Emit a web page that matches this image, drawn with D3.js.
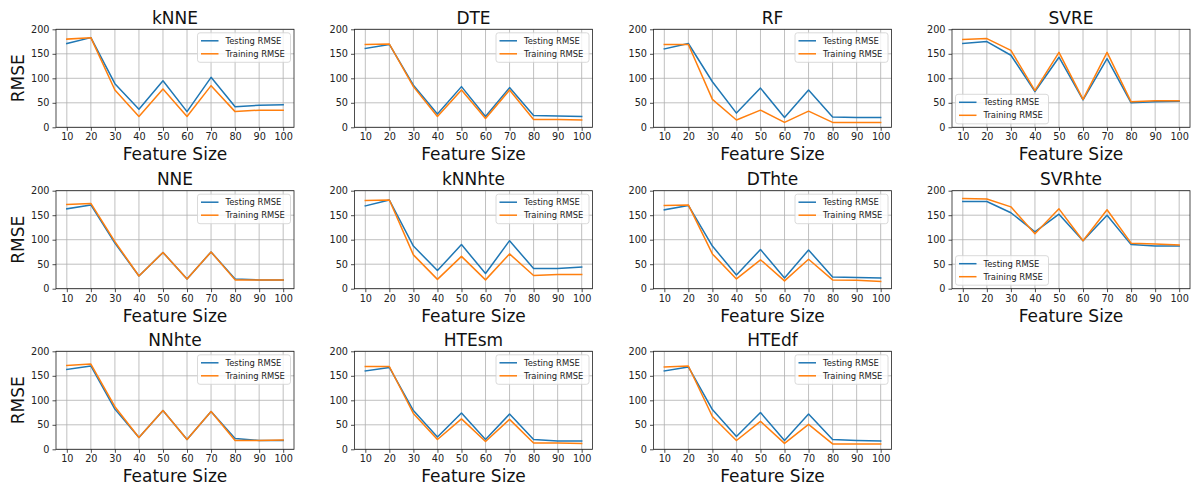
<!DOCTYPE html>
<html>
<head>
<meta charset="utf-8">
<script src="https://cdn.jsdelivr.net/npm/d3@7"></script>
<style>
  html, body { margin: 0; padding: 0; background: #fff; }
  svg { display: block; font-family: "DejaVu Sans", sans-serif; }
</style>
</head>
<body>
<svg id="chart" width="1193" height="489"></svg>
<script>
// Feature sizes on the x axis
const featureSizes = [10, 20, 30, 40, 50, 60, 70, 80, 90, 100];
const xTicks = [10, 20, 30, 40, 50, 60, 70, 80, 90, 100];
const yTicks = [0, 50, 100, 150, 200];
const seriesNames = ["Testing RMSE", "Training RMSE"];
const modelNames = ["kNNE", "DTE", "RF", "SVRE", "NNE", "kNNhte", "DThte", "SVRhte", "NNhte", "HTEsm", "HTEdf"];

// RMSE per model: testing and training
const kNNE_test    = [171, 183, 89, 37, 95, 32, 102, 42, 45, 46];
const kNNE_train   = [180, 183, 76, 22, 78, 22, 85, 32, 35, 35];
const DTE_test     = [161, 169, 86, 27, 83, 22, 81, 24, 23, 22];
const DTE_train    = [169, 170, 83, 22, 76, 18, 76, 16, 16, 15];
const RF_test      = [160, 171, 93, 29, 80, 20, 76, 21, 20, 20];
const RF_train     = [169, 169, 57, 15, 35, 10, 33, 10, 10, 10];
const SVRE_test    = [171, 175, 147, 73, 143, 56, 140, 50, 52, 53];
const SVRE_train   = [179, 181, 157, 75, 153, 57, 153, 52, 54, 54];
const NNE_test     = [163, 171, 93, 26, 74, 20, 75, 20, 18, 18];
const NNE_train    = [172, 174, 96, 26, 74, 20, 75, 18, 18, 18];
const kNNhte_test  = [169, 181, 87, 37, 90, 31, 98, 41, 41, 44];
const kNNhte_train = [180, 181, 69, 19, 66, 18, 71, 27, 29, 29];
const DThte_test   = [161, 170, 87, 28, 80, 22, 79, 24, 23, 22];
const DThte_train  = [170, 171, 71, 20, 59, 16, 60, 18, 17, 15];
const SVRhte_test  = [178, 178, 155, 116, 152, 98, 150, 90, 87, 87];
const SVRhte_train = [184, 183, 167, 112, 163, 98, 161, 93, 91, 89];
const NNhte_test   = [163, 170, 82, 24, 79, 20, 77, 22, 18, 18];
const NNhte_train  = [171, 174, 87, 24, 79, 20, 77, 18, 18, 19];
const HTEsm_test   = [160, 167, 79, 25, 74, 20, 72, 20, 17, 17];
const HTEsm_train  = [169, 169, 73, 20, 62, 16, 61, 13, 13, 12];
const HTEdf_test   = [160, 168, 81, 26, 75, 18, 72, 20, 18, 17];
const HTEdf_train  = [168, 170, 67, 18, 57, 12, 51, 11, 11, 11];

const testSeries  = [kNNE_test, DTE_test, RF_test, SVRE_test, NNE_test, kNNhte_test, DThte_test, SVRhte_test, NNhte_test, HTEsm_test, HTEdf_test];
const trainSeries = [kNNE_train, DTE_train, RF_train, SVRE_train, NNE_train, kNNhte_train, DThte_train, SVRhte_train, NNhte_train, HTEsm_train, HTEdf_train];
const legendLowerLeft = ["SVRE", "SVRhte"];

const colors = ["#1f77b4", "#ff7f0e"];
const svg = d3.select("#chart");

// Grid of axes: 4 columns x 3 rows
const colLeft = [56, 354.5, 653.5, 952];
const rowTop = [29.3, 190.7, 351.3];
const W = 238, H = 98;

const x = d3.scaleLinear().domain([5.5, 104.5]).range([0, W]);
const y = d3.scaleLinear().domain([0, 200]).range([H, 0]);
const line = d3.line().x((d, i) => x(featureSizes[i])).y(d => y(d));

modelNames.forEach((name, idx) => {
  const col = idx % 4, row = Math.floor(idx / 4);
  const g = svg.append("g").attr("transform", `translate(${colLeft[col]},${rowTop[row]})`);

  // grid lines
  g.append("g").selectAll("line").data(xTicks).join("line")
    .attr("x1", d => x(d)).attr("x2", d => x(d)).attr("y1", 0).attr("y2", H)
    .attr("stroke", "#b0b0b0").attr("stroke-width", 0.8);
  g.append("g").selectAll("line").data(yTicks).join("line")
    .attr("x1", 0).attr("x2", W).attr("y1", d => y(d)).attr("y2", d => y(d))
    .attr("stroke", "#b0b0b0").attr("stroke-width", 0.8);

  // series lines
  [testSeries[idx], trainSeries[idx]].forEach((vals, s) => {
    g.append("path").datum(vals).attr("d", line)
      .attr("fill", "none").attr("stroke", colors[s]).attr("stroke-width", 1.5)
      .attr("stroke-linejoin", "round").attr("stroke-linecap", "square");
  });

  // axes
  const xa = g.append("g").attr("transform", `translate(0,${H})`)
    .call(d3.axisBottom(x).tickValues(xTicks).tickSize(3.5).tickPadding(2.5).tickSizeOuter(0));
  const ya = g.append("g")
    .call(d3.axisLeft(y).tickValues(yTicks).tickSize(3.5).tickPadding(3).tickSizeOuter(0));
  [xa, ya].forEach(a => {
    a.select(".domain").remove();
    a.selectAll("text").attr("font-size", "9.7px").attr("fill", "#222").attr("font-family", "DejaVu Sans");
    a.selectAll("line").attr("stroke", "#222").attr("stroke-width", 0.8);
  });

  // frame
  g.append("rect").attr("width", W).attr("height", H)
    .attr("fill", "none").attr("stroke", "#222").attr("stroke-width", 0.8);

  // title and axis labels
  g.append("text").attr("x", W / 2).attr("y", -5.5).attr("text-anchor", "middle")
    .attr("font-size", "17px").attr("fill", "#111").text(name);
  g.append("text").attr("x", W / 2).attr("y", H + 33).attr("text-anchor", "middle")
    .attr("font-size", "17px").attr("fill", "#111").text("Feature Size");
  if (col === 0) {
    g.append("text").attr("transform", `translate(-32,${H / 2}) rotate(-90)`)
      .attr("text-anchor", "middle").attr("font-size", "17px").attr("fill", "#111").text("RMSE");
  }

  // legend
  const lw = 93, lh = 29.5, pad = 3.5;
  const lowerLeft = legendLowerLeft.includes(name);
  const lx = lowerLeft ? pad : W - pad - lw;
  const ly = lowerLeft ? H - pad - lh : pad;
  const lg = g.append("g").attr("transform", `translate(${lx},${ly})`);
  lg.append("rect").attr("width", lw).attr("height", lh).attr("rx", 2.5)
    .attr("fill", "#fff").attr("fill-opacity", 0.8).attr("stroke", "#d0d0d0").attr("stroke-width", 0.8);
  seriesNames.forEach((s, i) => {
    const yy = 8 + i * 13;
    lg.append("line").attr("x1", 3.5).attr("x2", 21).attr("y1", yy).attr("y2", yy)
      .attr("stroke", colors[i]).attr("stroke-width", 1.5);
    lg.append("text").attr("x", 28).attr("y", yy).attr("dy", "0.35em")
      .attr("font-size", "8.4px").attr("fill", "#222").text(s);
  });
});
</script>
</body>
</html>
